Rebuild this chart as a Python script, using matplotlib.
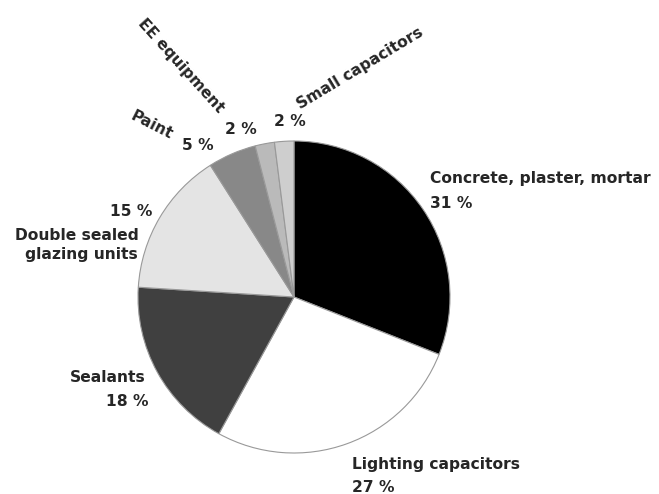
import matplotlib
matplotlib.use("Agg")
import matplotlib.pyplot as plt

categories = ["Concrete, plaster, mortar", "Lighting capacitors", "Sealants",
              "Double sealed glazing units", "Paint", "EE equipment", "Small capacitors"]
values = [31, 27, 18, 15, 5, 2, 2]
colors = ["#000000", "#ffffff", "#404040", "#e4e4e4", "#888888", "#bababa", "#cecece"]

W, H = 659, 494
fig = plt.figure(figsize=(W / 100, H / 100), dpi=100)
ax = fig.add_axes([0, 0, 1, 1])
ax.set_xlim(0, W)
ax.set_ylim(0, H)
ax.set_aspect("equal")
ax.axis("off")

cx, cy, r = 294, 297, 156
ax.pie(values, colors=colors, startangle=90, counterclock=False,
       center=(cx, H - cy), radius=r,
       wedgeprops=dict(edgecolor="#999999", linewidth=0.8))
ax.set_xlim(0, W)
ax.set_ylim(0, H)

fs = 11.2
col = "#262626"
kw = dict(fontsize=fs, fontweight="bold", color=col, family="DejaVu Sans")

def t(x, y, s, **k):
    d = dict(kw)
    d.update(k)
    ax.text(x, H - y, s, **d)

t(430, 179, categories[0], ha="left", va="center")
t(430, 204, f"{values[0]} %", ha="left", va="center")
t(352, 465, categories[1], ha="left", va="center")
t(352, 488, f"{values[1]} %", ha="left", va="center")
t(146, 378, categories[2], ha="right", va="center")
t(149, 402, f"{values[2]} %", ha="right", va="center")
t(152, 212, f"{values[3]} %", ha="right", va="center")
t(139, 235, "Double sealed", ha="right", va="center")
t(138, 254, "glazing units", ha="right", va="center")
t(152, 125, categories[4], ha="center", va="center", rotation=-27)
t(198, 146, f"{values[4]} %", ha="center", va="center")
t(181, 66, categories[5], ha="center", va="center", rotation=-48)
t(241, 130, f"{values[5]} %", ha="center", va="center")
t(360, 68, categories[6], ha="center", va="center", rotation=31)
t(290, 122, f"{values[6]} %", ha="center", va="center")

fig.savefig("out.png", dpi=100)
